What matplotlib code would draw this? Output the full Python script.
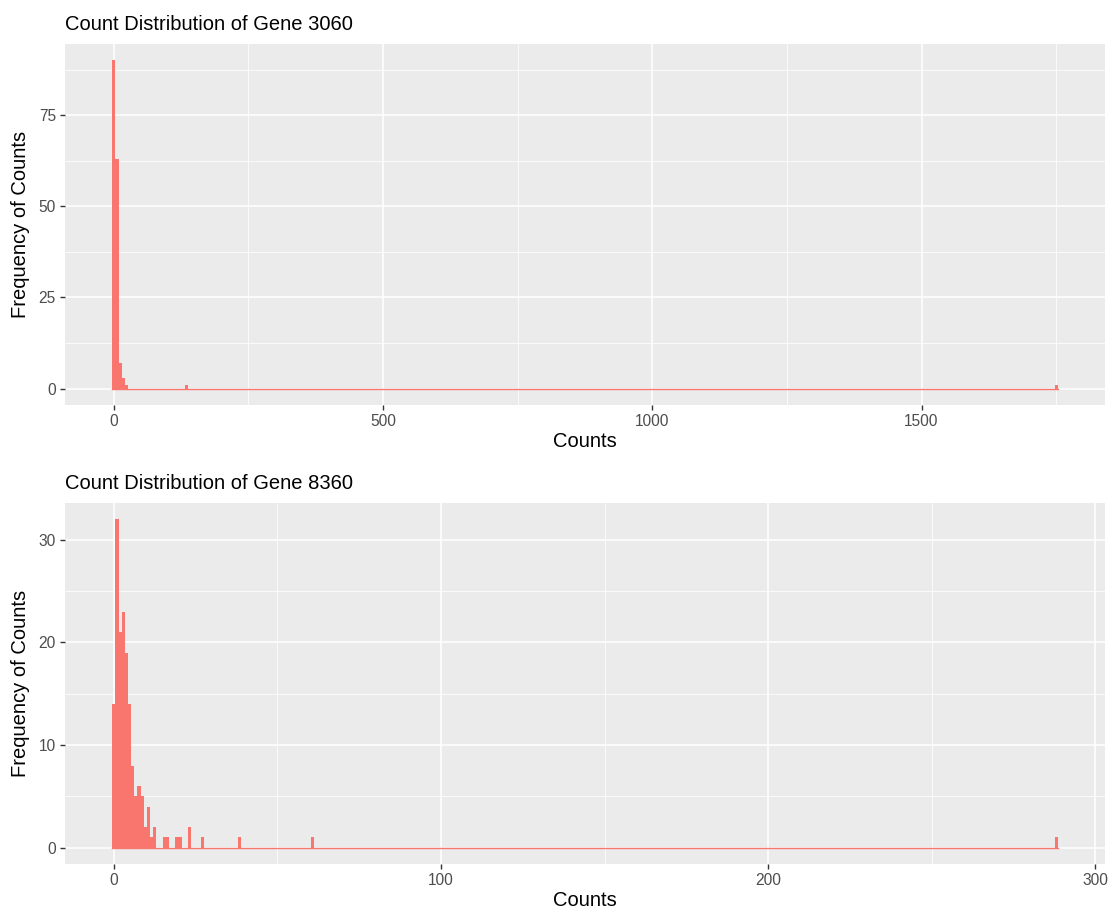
import numpy as np
import matplotlib
matplotlib.use("Agg")
import matplotlib.pyplot as plt
plt.rcParams.update({"font.family": ["Liberation Sans", "DejaVu Sans"]})

# observed count values and how many samples share each value
g3060_counts = [0, 6, 12, 18, 24, 135, 1750]
g3060_freq = [90, 63, 7, 3, 1, 1, 1]

g8360_counts = [0, 1, 2, 3, 4, 5, 6, 7, 8, 9, 10, 11, 12, 13,
                15, 16, 19, 20, 23, 27, 39, 61, 288]
g8360_freq = [14, 32, 21, 23, 19, 14, 8, 5, 6, 5, 2, 4, 1, 2,
              1, 1, 1, 1, 2, 1, 1, 1, 1]

genes = ["3060", "8360"]
x_major = [[0, 500, 1000, 1500], [0, 100, 200, 300]]
y_major = [[0, 25, 50, 75], [0, 10, 20, 30]]

FILL = "#F8766D"
NBINS = 300
W, H = 1112, 909


def gg_hist(ax, counts, freq, gene, xt, yt):
    vals = np.repeat(counts, freq).astype(float)
    lo, hi = vals.min(), vals.max()
    w = (hi - lo) / (NBINS - 1)          # ggplot: bins centred on min and max
    edges = lo - w / 2 + w * np.arange(NBINS + 1)
    h, _ = np.histogram(vals, bins=edges)
    ax.set_facecolor("#EBEBEB")
    # grid: major + minor, white
    xmin, xmax = edges[0], edges[-1]
    span = xmax - xmin
    ax.set_xlim(xmin - 0.05 * span, xmax + 0.05 * span)
    ax.set_ylim(-0.05 * h.max(), 1.05 * h.max())
    xs = np.array(xt, float); ys = np.array(yt, float)
    dx = xs[1] - xs[0]; dy = ys[1] - ys[0]
    for v in np.arange(xs[0] - dx / 2, xs[-1] + dx, dx):
        ax.axvline(v, color="white", lw=0.55, zorder=0)
    for v in np.arange(ys[0] - dy / 2, ys[-1] + dy, dy):
        ax.axhline(v, color="white", lw=0.55, zorder=0)
    for v in xs:
        ax.axvline(v, color="white", lw=1.1, zorder=0)
    for v in ys:
        ax.axhline(v, color="white", lw=1.1, zorder=0)
    # empty bins still leave a thin baseline
    ax.plot([edges[0], edges[-1]], [0, 0], color=FILL, lw=1.0, zorder=1)
    ax.bar(edges[:-1], h, width=w, align="edge", color=FILL, lw=0, zorder=2)
    ax.set_xticks(xs); ax.set_yticks(ys)
    ax.set_xticklabels([f"{int(v)}" for v in xs])
    ax.set_yticklabels([f"{int(v)}" for v in ys])
    ax.tick_params(length=3.5, width=1.0, color="#333333", labelcolor="#4D4D4D",
                   labelsize=11.2, pad=3)
    for s in ax.spines.values():
        s.set_visible(False)
    ax.set_xlabel("Counts", fontsize=14.5, labelpad=2)
    ax.set_ylabel("Frequency of Counts", fontsize=14.5, labelpad=6)
    ax.set_title(f"Count Distribution of Gene {gene}", loc="left",
                 fontsize=14.5, pad=10)


fig = plt.figure(figsize=(W / 100, H / 100), dpi=100)
panels = [(65, 44, 1105, 405), (65, 503, 1105, 864)]
data = [(g3060_counts, g3060_freq), (g8360_counts, g8360_freq)]
for (l, t, r, b), (c, f), g, xt, yt in zip(panels, data, genes, x_major, y_major):
    ax = fig.add_axes([l / W, 1 - b / H, (r - l) / W, (b - t) / H])
    gg_hist(ax, c, f, g, xt, yt)

fig.savefig("out.png", dpi=100)
